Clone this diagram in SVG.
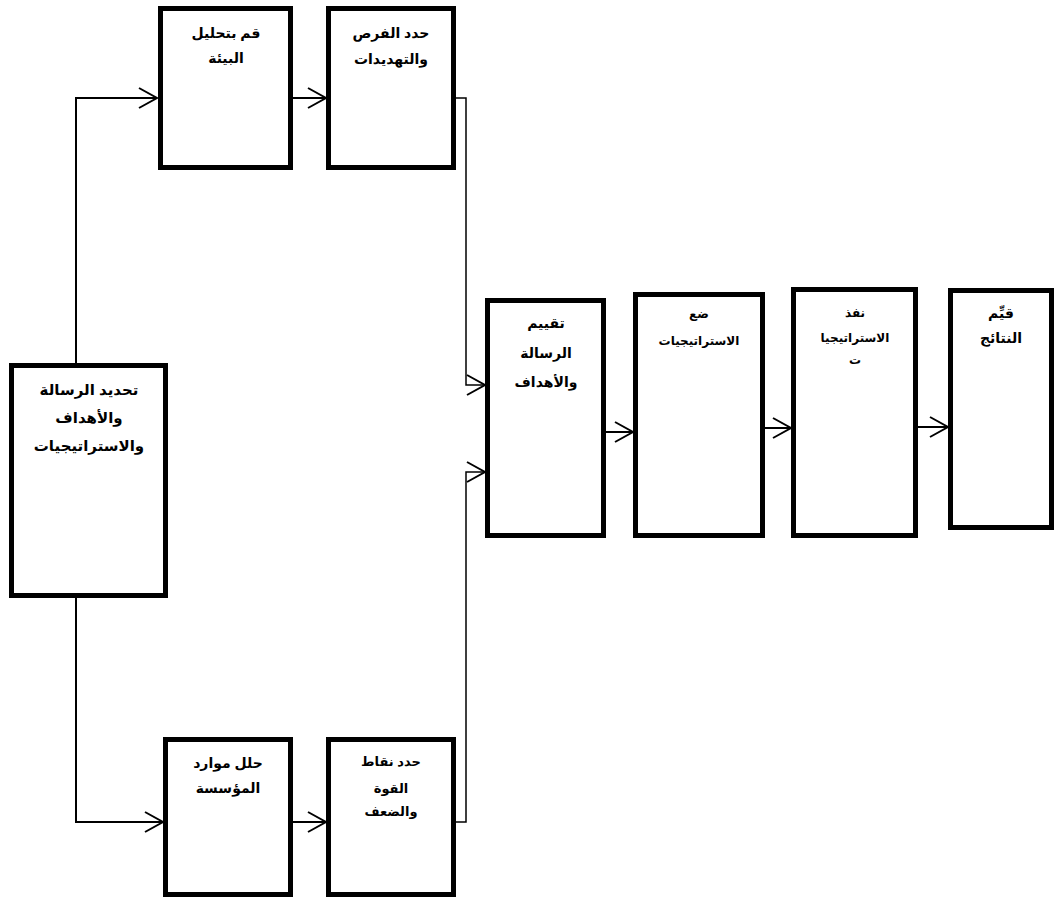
<svg xmlns="http://www.w3.org/2000/svg" width="1056" height="898" viewBox="0 0 1056 898">
<style>
.box{fill:#fff;stroke:#000;stroke-width:5}
.t{font-family:"Liberation Sans","DejaVu Sans",sans-serif;font-weight:bold;text-anchor:middle;fill:#000;direction:rtl}
.ln{fill:none;stroke:#000;stroke-width:2}
.thin{fill:none;stroke:#000;stroke-width:1.5}
.ah{fill:none;stroke:#000;stroke-width:2}
</style>
<rect width="1056" height="898" fill="#fff"/>
<g id="connectors">
<polyline class="ln" points="76,363 76,98 157,98"/>
<polyline class="ah" points="139,88 157,98 139,108"/>
<line class="ln" x1="293" y1="98" x2="326" y2="98"/>
<polyline class="ah" points="308,88 326,98 308,108"/>
<polyline class="thin" points="456,98 466,98 466,385 485,385"/>
<polyline class="ah" points="467,375 485,385 467,395"/>
<polyline class="ln" points="76,598 76,822 163,822"/>
<polyline class="ah" points="145,812 163,822 145,832"/>
<line class="ln" x1="293" y1="822" x2="326" y2="822"/>
<polyline class="ah" points="308,812 326,822 308,832"/>
<polyline class="thin" points="456,822 466,822 466,472 485,472"/>
<polyline class="ah" points="467,462 485,472 467,482"/>
<line class="ln" x1="606" y1="432" x2="633" y2="432"/>
<polyline class="ah" points="615,422 633,432 615,442"/>
<line class="ln" x1="765" y1="428" x2="791" y2="428"/>
<polyline class="ah" points="773,418 791,428 773,438"/>
<line class="ln" x1="918" y1="427" x2="948" y2="427"/>
<polyline class="ah" points="930,417 948,427 930,437"/>
</g>
<g id="n1">
<rect class="box" x="160.5" y="8.5" width="130" height="159"/>
<text class="t" font-size="14" x="226" y="38">قم بتحليل</text>
<text class="t" font-size="14" x="226" y="63">البيئة</text>
</g>
<g id="n2">
<rect class="box" x="328.5" y="8.5" width="125" height="159"/>
<text class="t" font-size="14" x="391" y="38">حدد الفرص</text>
<text class="t" font-size="14" x="391" y="64">والتهديدات</text>
</g>
<g id="n0">
<rect class="box" x="11.5" y="365.5" width="154" height="230"/>
<text class="t" font-size="15" x="89" y="395">تحديد الرسالة</text>
<text class="t" font-size="15" x="89" y="423">والأهداف</text>
<text class="t" font-size="15" x="89" y="451">والاستراتيجيات</text>
</g>
<g id="n7">
<rect class="box" x="165.5" y="739.5" width="125" height="155"/>
<text class="t" font-size="14" x="228" y="768">حلل موارد</text>
<text class="t" font-size="14" x="228" y="793">المؤسسة</text>
</g>
<g id="n8">
<rect class="box" x="328.5" y="739.5" width="125" height="155"/>
<text class="t" font-size="13" x="391" y="766">حدد نقاط</text>
<text class="t" font-size="13" x="391" y="793">القوة</text>
<text class="t" font-size="13" x="391" y="816">والضعف</text>
</g>
<g id="n3">
<rect class="box" x="487.5" y="300.5" width="116" height="235"/>
<text class="t" font-size="14" x="546" y="328">تقييم</text>
<text class="t" font-size="14" x="546" y="358">الرسالة</text>
<text class="t" font-size="14" x="546" y="387">والأهداف</text>
</g>
<g id="n4">
<rect class="box" x="635.5" y="294.5" width="127" height="241"/>
<text class="t" font-size="12" x="699" y="318">ضع</text>
<text class="t" font-size="12" x="699" y="345">الاستراتيجيات</text>
</g>
<g id="n5">
<rect class="box" x="793.5" y="289.5" width="122" height="246"/>
<text class="t" font-size="12" x="855" y="317">نفذ</text>
<text class="t" font-size="12" x="855" y="342">الاستراتيجيا</text>
<text class="t" font-size="12" x="855" y="364">ت</text>
</g>
<g id="n6">
<rect class="box" x="950.5" y="290.5" width="101" height="237"/>
<text class="t" font-size="14" x="1001" y="318">قيِّم</text>
<text class="t" font-size="14" x="1001" y="343">النتائج</text>
</g>
</svg>
